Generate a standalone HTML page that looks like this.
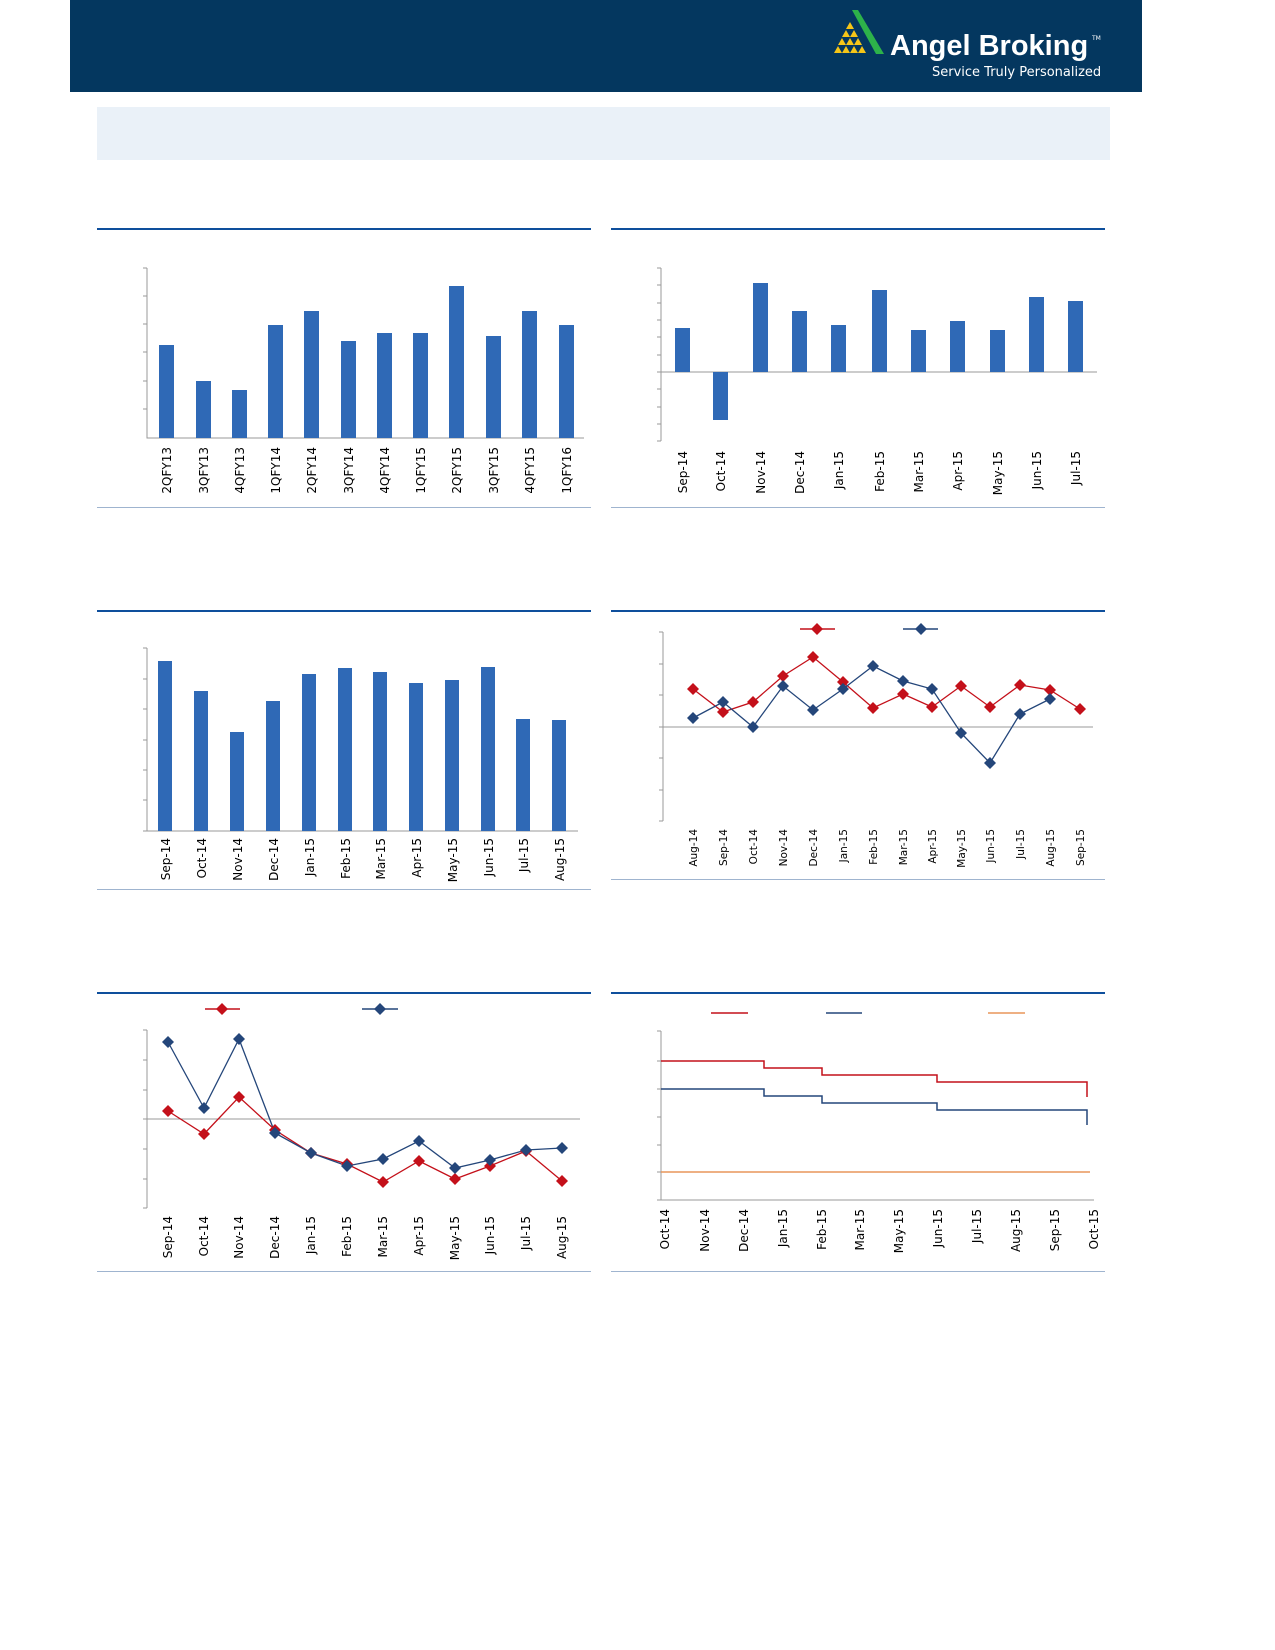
<!DOCTYPE html>
<html><head><meta charset="utf-8"><style>
html,body{margin:0;padding:0;width:1275px;height:1650px;overflow:hidden;background:#fff}
svg{display:block;position:absolute;left:0;top:0}
text{font-family:"DejaVu Sans","Liberation Sans",sans-serif;font-size:12px;fill:#000}
</style></head><body>
<svg width="1275" height="1650" viewBox="0 0 1275 1650" xmlns="http://www.w3.org/2000/svg">
<rect x="70" y="0" width="1072" height="92" fill="#04375f"/>
<g fill="#f5c518">
<polygon points="850,22 854,29 846,29"/><polygon points="846,30 850,37 842,37"/><polygon points="854,30 858,37 850,37"/>
<polygon points="842,38 846,45 838,45"/><polygon points="850,38 854,45 846,45"/><polygon points="858,38 862,45 854,45"/>
<polygon points="838,46 842,53 834,53"/><polygon points="846,46 850,53 842,53"/><polygon points="854,46 858,53 850,53"/><polygon points="862,46 866,53 858,53"/>
</g>
<polygon points="852,10 858,10 884,54 876,54" fill="#2db24a"/>
<text x="890" y="55" style="font-family:'Liberation Sans';font-weight:bold;font-size:29px;fill:#fff">Angel Broking</text>
<text x="1092" y="40" style="font-size:6px;fill:#fff">TM</text>
<text x="932" y="76" style="font-family:'DejaVu Sans';font-size:13px;fill:#fff">Service Truly Personalized</text>
<rect x="97" y="107" width="1013" height="53" fill="#eaf1f8"/>
<g fill="#0e4f9c">
<rect x="97" y="228" width="494" height="2"/><rect x="611" y="228" width="494" height="2"/>
<rect x="97" y="610" width="494" height="2"/><rect x="611" y="610" width="494" height="2"/>
<rect x="97" y="992" width="494" height="2"/><rect x="611" y="992" width="494" height="2"/>
</g>
<g fill="#9fb4cf">
<rect x="97" y="507" width="494" height="1"/><rect x="611" y="507" width="494" height="1"/>
<rect x="97" y="889" width="494" height="1"/><rect x="611" y="879" width="494" height="1"/>
<rect x="97" y="1271" width="494" height="1"/><rect x="611" y="1271" width="494" height="1"/>
</g>
<g stroke="#999" fill="none">
<path d="M147,268V438H584 M143,268H147M143,296H147M143,324H147M143,352H147M143,381H147M143,409H147"/>
<path d="M661,268V441 M657,268H661M657,285H661M657,303H661M657,320H661M657,337H661M657,355H661M657,372H1097M657,389H661M657,407H661M657,424H661M657,441H661"/>
<path d="M147,648V831H578 M143,648H147M143,679H147M143,709H147M143,740H147M143,770H147M143,800H147M143,831H147"/>
<path d="M663,632V821 M659,632H663M659,664H663M659,695H663M659,727H1093M659,758H663M659,790H663M659,821H663"/>
<path d="M147,1030V1208 M143,1030H147M143,1060H147M143,1090H147M143,1119H580M143,1149H147M143,1179H147M143,1208H147"/>
<path d="M661,1031V1200H1094 M657,1031H661M657,1061H661M657,1089H661M657,1117H661M657,1145H661M657,1172H661M657,1200H661"/>
</g>
<g fill="#2f69b6">
<rect x="159" y="345" width="15" height="93"/><rect x="196" y="381" width="15" height="57"/><rect x="232" y="390" width="15" height="48"/><rect x="268" y="325" width="15" height="113"/><rect x="304" y="311" width="15" height="127"/><rect x="341" y="341" width="15" height="97"/><rect x="377" y="333" width="15" height="105"/><rect x="413" y="333" width="15" height="105"/><rect x="449" y="286" width="15" height="152"/><rect x="486" y="336" width="15" height="102"/><rect x="522" y="311" width="15" height="127"/><rect x="559" y="325" width="15" height="113"/>
<rect x="675" y="328" width="15" height="44"/><rect x="713" y="372" width="15" height="48"/><rect x="753" y="283" width="15" height="89"/><rect x="792" y="311" width="15" height="61"/><rect x="831" y="325" width="15" height="47"/><rect x="872" y="290" width="15" height="82"/><rect x="911" y="330" width="15" height="42"/><rect x="950" y="321" width="15" height="51"/><rect x="990" y="330" width="15" height="42"/><rect x="1029" y="297" width="15" height="75"/><rect x="1068" y="301" width="15" height="71"/>
<rect x="158" y="661" width="14" height="170"/><rect x="194" y="691" width="14" height="140"/><rect x="230" y="732" width="14" height="99"/><rect x="266" y="701" width="14" height="130"/><rect x="302" y="674" width="14" height="157"/><rect x="338" y="668" width="14" height="163"/><rect x="373" y="672" width="14" height="159"/><rect x="409" y="683" width="14" height="148"/><rect x="445" y="680" width="14" height="151"/><rect x="481" y="667" width="14" height="164"/><rect x="516" y="719" width="14" height="112"/><rect x="552" y="720" width="14" height="111"/>
</g>
<defs><path id="d" d="M0,-6L6,0L0,6L-6,0Z"/></defs>
<polyline fill="none" stroke="#c4101a" stroke-width="1.3" points="693,689 723,712 753,702 783,676 813,657 843,682 873,708 903,694 932,707 961,686 990,707 1020,685 1050,690 1080,709"/>
<polyline fill="none" stroke="#24467a" stroke-width="1.3" points="693,718 723,702 753,727 783,686 813,710 843,689 873,666 903,681 932,689 961,733 990,763 1020,714 1050,699"/>
<g fill="#c4101a"><use href="#d" x="693" y="689"/><use href="#d" x="723" y="712"/><use href="#d" x="753" y="702"/><use href="#d" x="783" y="676"/><use href="#d" x="813" y="657"/><use href="#d" x="843" y="682"/><use href="#d" x="873" y="708"/><use href="#d" x="903" y="694"/><use href="#d" x="932" y="707"/><use href="#d" x="961" y="686"/><use href="#d" x="990" y="707"/><use href="#d" x="1020" y="685"/><use href="#d" x="1050" y="690"/><use href="#d" x="1080" y="709"/></g>
<g fill="#24467a"><use href="#d" x="693" y="718"/><use href="#d" x="723" y="702"/><use href="#d" x="753" y="727"/><use href="#d" x="783" y="686"/><use href="#d" x="813" y="710"/><use href="#d" x="843" y="689"/><use href="#d" x="873" y="666"/><use href="#d" x="903" y="681"/><use href="#d" x="932" y="689"/><use href="#d" x="961" y="733"/><use href="#d" x="990" y="763"/><use href="#d" x="1020" y="714"/><use href="#d" x="1050" y="699"/></g>
<path d="M800,629H835" stroke="#c4101a" stroke-width="1.5"/><use href="#d" x="817" y="629" fill="#c4101a"/>
<path d="M903,629H938" stroke="#24467a" stroke-width="1.5"/><use href="#d" x="921" y="629" fill="#24467a"/>
<polyline fill="none" stroke="#c4101a" stroke-width="1.3" points="168,1111 204,1134 239,1097 275,1130 311,1153 347,1164 383,1182 419,1161 455,1179 490,1166 526,1151 562,1181"/>
<polyline fill="none" stroke="#24467a" stroke-width="1.3" points="168,1042 204,1108 239,1039 275,1133 311,1153 347,1166 383,1159 419,1141 455,1168 490,1160 526,1150 562,1148"/>
<g fill="#c4101a"><use href="#d" x="168" y="1111"/><use href="#d" x="204" y="1134"/><use href="#d" x="239" y="1097"/><use href="#d" x="275" y="1130"/><use href="#d" x="311" y="1153"/><use href="#d" x="347" y="1164"/><use href="#d" x="383" y="1182"/><use href="#d" x="419" y="1161"/><use href="#d" x="455" y="1179"/><use href="#d" x="490" y="1166"/><use href="#d" x="526" y="1151"/><use href="#d" x="562" y="1181"/></g>
<g fill="#24467a"><use href="#d" x="168" y="1042"/><use href="#d" x="204" y="1108"/><use href="#d" x="239" y="1039"/><use href="#d" x="275" y="1133"/><use href="#d" x="311" y="1153"/><use href="#d" x="347" y="1166"/><use href="#d" x="383" y="1159"/><use href="#d" x="419" y="1141"/><use href="#d" x="455" y="1168"/><use href="#d" x="490" y="1160"/><use href="#d" x="526" y="1150"/><use href="#d" x="562" y="1148"/></g>
<path d="M205,1009H240" stroke="#c4101a" stroke-width="1.5"/><use href="#d" x="222" y="1009" fill="#c4101a"/>
<path d="M362,1009H398" stroke="#24467a" stroke-width="1.5"/><use href="#d" x="380" y="1009" fill="#24467a"/>
<path d="M661,1061H764V1068H822V1075H937V1082H1087V1097" fill="none" stroke="#c4101a" stroke-width="1.5"/>
<path d="M661,1089H764V1096H822V1103H937V1110H1087V1125" fill="none" stroke="#24467a" stroke-width="1.5"/>
<path d="M661,1172H1090" stroke="#e8955a" stroke-width="1.5"/>
<path d="M711,1013H748" stroke="#c4101a" stroke-width="1.5"/><path d="M826,1013H862" stroke="#24467a" stroke-width="1.5"/><path d="M988,1013H1025" stroke="#e8955a" stroke-width="1.5"/>
<g text-anchor="end">
<text transform="translate(171,447) rotate(-90)">2QFY13</text><text transform="translate(208,447) rotate(-90)">3QFY13</text><text transform="translate(244,447) rotate(-90)">4QFY13</text><text transform="translate(280,447) rotate(-90)">1QFY14</text><text transform="translate(316,447) rotate(-90)">2QFY14</text><text transform="translate(353,447) rotate(-90)">3QFY14</text><text transform="translate(389,447) rotate(-90)">4QFY14</text><text transform="translate(425,447) rotate(-90)">1QFY15</text><text transform="translate(461,447) rotate(-90)">2QFY15</text><text transform="translate(498,447) rotate(-90)">3QFY15</text><text transform="translate(534,447) rotate(-90)">4QFY15</text><text transform="translate(571,447) rotate(-90)">1QFY16</text>
<text transform="translate(687,451) rotate(-90)">Sep-14</text><text transform="translate(725,451) rotate(-90)">Oct-14</text><text transform="translate(765,451) rotate(-90)">Nov-14</text><text transform="translate(804,451) rotate(-90)">Dec-14</text><text transform="translate(843,451) rotate(-90)">Jan-15</text><text transform="translate(884,451) rotate(-90)">Feb-15</text><text transform="translate(923,451) rotate(-90)">Mar-15</text><text transform="translate(962,451) rotate(-90)">Apr-15</text><text transform="translate(1002,451) rotate(-90)">May-15</text><text transform="translate(1041,451) rotate(-90)">Jun-15</text><text transform="translate(1080,451) rotate(-90)">Jul-15</text>
<text transform="translate(170,838) rotate(-90)">Sep-14</text><text transform="translate(206,838) rotate(-90)">Oct-14</text><text transform="translate(242,838) rotate(-90)">Nov-14</text><text transform="translate(278,838) rotate(-90)">Dec-14</text><text transform="translate(314,838) rotate(-90)">Jan-15</text><text transform="translate(350,838) rotate(-90)">Feb-15</text><text transform="translate(385,838) rotate(-90)">Mar-15</text><text transform="translate(421,838) rotate(-90)">Apr-15</text><text transform="translate(457,838) rotate(-90)">May-15</text><text transform="translate(493,838) rotate(-90)">Jun-15</text><text transform="translate(528,838) rotate(-90)">Jul-15</text><text transform="translate(564,838) rotate(-90)">Aug-15</text>
<text transform="translate(697,829) rotate(-90)" style="font-size:10.5px">Aug-14</text><text transform="translate(727,829) rotate(-90)" style="font-size:10.5px">Sep-14</text><text transform="translate(757,829) rotate(-90)" style="font-size:10.5px">Oct-14</text><text transform="translate(787,829) rotate(-90)" style="font-size:10.5px">Nov-14</text><text transform="translate(817,829) rotate(-90)" style="font-size:10.5px">Dec-14</text><text transform="translate(847,829) rotate(-90)" style="font-size:10.5px">Jan-15</text><text transform="translate(877,829) rotate(-90)" style="font-size:10.5px">Feb-15</text><text transform="translate(907,829) rotate(-90)" style="font-size:10.5px">Mar-15</text><text transform="translate(936,829) rotate(-90)" style="font-size:10.5px">Apr-15</text><text transform="translate(965,829) rotate(-90)" style="font-size:10.5px">May-15</text><text transform="translate(994,829) rotate(-90)" style="font-size:10.5px">Jun-15</text><text transform="translate(1024,829) rotate(-90)" style="font-size:10.5px">Jul-15</text><text transform="translate(1054,829) rotate(-90)" style="font-size:10.5px">Aug-15</text><text transform="translate(1084,829) rotate(-90)" style="font-size:10.5px">Sep-15</text>
<text transform="translate(172,1216) rotate(-90)">Sep-14</text><text transform="translate(208,1216) rotate(-90)">Oct-14</text><text transform="translate(243,1216) rotate(-90)">Nov-14</text><text transform="translate(279,1216) rotate(-90)">Dec-14</text><text transform="translate(315,1216) rotate(-90)">Jan-15</text><text transform="translate(351,1216) rotate(-90)">Feb-15</text><text transform="translate(387,1216) rotate(-90)">Mar-15</text><text transform="translate(423,1216) rotate(-90)">Apr-15</text><text transform="translate(459,1216) rotate(-90)">May-15</text><text transform="translate(494,1216) rotate(-90)">Jun-15</text><text transform="translate(530,1216) rotate(-90)">Jul-15</text><text transform="translate(566,1216) rotate(-90)">Aug-15</text>
<text transform="translate(669,1209) rotate(-90)">Oct-14</text><text transform="translate(709,1209) rotate(-90)">Nov-14</text><text transform="translate(748,1209) rotate(-90)">Dec-14</text><text transform="translate(787,1209) rotate(-90)">Jan-15</text><text transform="translate(826,1209) rotate(-90)">Feb-15</text><text transform="translate(864,1209) rotate(-90)">Mar-15</text><text transform="translate(903,1209) rotate(-90)">May-15</text><text transform="translate(942,1209) rotate(-90)">Jun-15</text><text transform="translate(981,1209) rotate(-90)">Jul-15</text><text transform="translate(1020,1209) rotate(-90)">Aug-15</text><text transform="translate(1059,1209) rotate(-90)">Sep-15</text><text transform="translate(1098,1209) rotate(-90)">Oct-15</text>
</g>
</svg>
</body></html>
